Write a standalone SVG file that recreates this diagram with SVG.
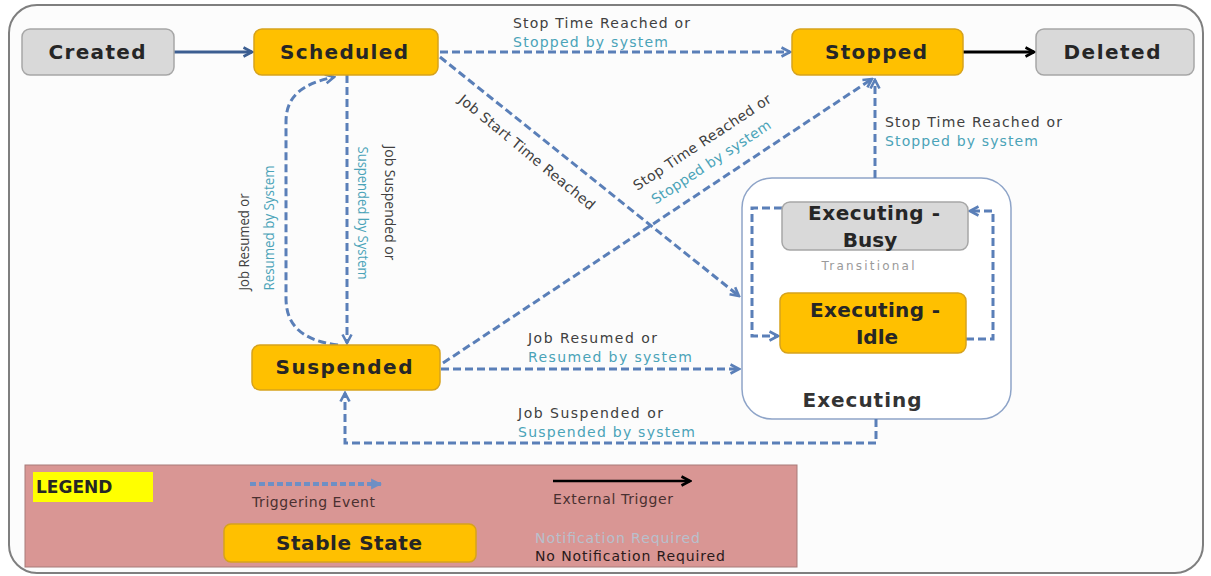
<svg xmlns="http://www.w3.org/2000/svg" width="1211" height="576" viewBox="0 0 1211 576">
<style>
.node text{font-family:"DejaVu Sans","Open Sans",sans-serif;font-weight:700;font-size:20px;fill:#262626;text-anchor:middle;dominant-baseline:central}
.orange{fill:#ffc000;stroke:#d6a21c;stroke-width:1.5}
.gray{fill:#d9d9d9;stroke:#a6a6a6;stroke-width:1.5}
.dash{fill:none;stroke:#5a7fb8;stroke-width:3;stroke-dasharray:8 4}
.lbl{font-family:"DejaVu Sans","Open Sans",sans-serif;font-size:14px;fill:#404040;dominant-baseline:central}
.vl{font-family:"Open Sans","DejaVu Sans",sans-serif;font-size:14px;fill:#404040;dominant-baseline:central;text-anchor:middle}
.teal{fill:#4aa3b8}
.leg{font-family:"DejaVu Sans","Open Sans",sans-serif;font-size:14px;fill:#4a3030;dominant-baseline:central}
</style>
<defs>
<marker id="arr" viewBox="0 0 12 12" refX="10" refY="6" markerWidth="12" markerHeight="12" markerUnits="userSpaceOnUse" orient="auto">
<path d="M1.5,1.5 L10,6 L1.5,10.5" fill="none" stroke="#5a7fb8" stroke-width="2.6"/>
</marker>
<marker id="arrDark" viewBox="0 0 12 12" refX="10" refY="6" markerWidth="12" markerHeight="12" markerUnits="userSpaceOnUse" orient="auto">
<path d="M1.5,1.5 L10,6 L1.5,10.5" fill="none" stroke="#3c5e91" stroke-width="2.6"/>
</marker>
<marker id="arrBlack" viewBox="0 0 12 12" refX="10" refY="6" markerWidth="12" markerHeight="12" markerUnits="userSpaceOnUse" orient="auto">
<path d="M1.5,1.5 L10,6 L1.5,10.5" fill="none" stroke="#000" stroke-width="2.6"/>
</marker>
<marker id="arrFill" viewBox="0 0 10 10" refX="9" refY="5" markerWidth="11" markerHeight="14" markerUnits="userSpaceOnUse" orient="auto">
<path d="M0,0 L10,5 L0,10 z" fill="#6f8fc4"/>
</marker>
</defs>

<rect x="9" y="5" width="1194" height="568" rx="28" fill="#fcfcfc" stroke="#7f7f7f" stroke-width="2"/>

<g id="executing">
<rect x="742" y="178" width="269" height="241" rx="30" fill="#ffffff" stroke="#8ea4c8" stroke-width="1.5"/>
<text x="862" y="400" style="font-family:'DejaVu Sans','Open Sans',sans-serif;font-weight:700;font-size:20px;fill:#333;text-anchor:middle;dominant-baseline:central" textLength="119" lengthAdjust="spacing">Executing</text>
<text x="868" y="266" style="font-family:'DejaVu Sans','Open Sans',sans-serif;font-size:12px;fill:#9a9a9a;text-anchor:middle;dominant-baseline:central" textLength="93" lengthAdjust="spacing">Transitional</text>
</g>

<g id="connectors">
<line x1="174" y1="52" x2="252" y2="52" stroke="#3c5e91" stroke-width="3" marker-end="url(#arrDark)"/>
<line x1="963" y1="52" x2="1034" y2="52" stroke="#000" stroke-width="3" marker-end="url(#arrBlack)"/>
<line class="dash" x1="440" y1="52" x2="790" y2="52" marker-end="url(#arr)"/>
<line class="dash" x1="440" y1="57" x2="739" y2="296" marker-end="url(#arr)"/>
<line class="dash" x1="443" y1="363" x2="872" y2="79" marker-end="url(#arr)"/>
<line class="dash" x1="875" y1="178" x2="875" y2="80" marker-end="url(#arr)"/>
<line class="dash" x1="347" y1="75" x2="347" y2="343" marker-end="url(#arr)"/>
<path class="dash" d="M338,345 C298,340 286,322 286,298 L286,122 C286,96 302,84 334,77" marker-end="url(#arr)"/>
<line class="dash" x1="441" y1="369" x2="739" y2="369" marker-end="url(#arr)"/>
<path class="dash" d="M876,419 L876,443 L345,443 L345,393" marker-end="url(#arr)"/>
<path class="dash" d="M782,208 L752,208 L752,336 L778,336" marker-end="url(#arr)"/>
<path class="dash" d="M966,339 L993,339 L993,211 L970,211" marker-end="url(#arr)"/>
</g>

<g id="labels">
<text class="lbl" x="513" y="23" textLength="177" lengthAdjust="spacing">Stop Time Reached or</text>
<text class="lbl teal" x="513" y="42" textLength="155" lengthAdjust="spacing">Stopped by system</text>
<text class="lbl" x="885" y="122" textLength="177" lengthAdjust="spacing">Stop Time Reached or</text>
<text class="lbl teal" x="885" y="141" textLength="153" lengthAdjust="spacing">Stopped by system</text>
<text class="lbl" x="528" y="338" textLength="129" lengthAdjust="spacing">Job Resumed or</text>
<text class="lbl teal" x="528" y="357" textLength="164" lengthAdjust="spacing">Resumed by system</text>
<text class="lbl" x="518" y="413" textLength="145" lengthAdjust="spacing">Job Suspended or</text>
<text class="lbl teal" x="518" y="432" textLength="177" lengthAdjust="spacing">Suspended by system</text>
<text class="lbl" text-anchor="middle" transform="translate(527,152) rotate(39.5)" textLength="172" lengthAdjust="spacing">Job  Start Time Reached</text>
<text class="lbl" text-anchor="middle" transform="translate(702,142) rotate(-33.5)" textLength="162" lengthAdjust="spacing">Stop Time Reached or</text>
<text class="lbl teal" text-anchor="middle" transform="translate(711,162) rotate(-33.5)" textLength="140" lengthAdjust="spacing">Stopped by system</text>
<text class="vl" transform="translate(390,203) rotate(90)" textLength="115" lengthAdjust="spacingAndGlyphs">Job Suspended or</text>
<text class="vl teal" transform="translate(363,213) rotate(90)" textLength="133" lengthAdjust="spacingAndGlyphs">Suspended by System</text>
<text class="vl" transform="translate(243,242) rotate(-90)" textLength="97" lengthAdjust="spacingAndGlyphs">Job Resumed or</text>
<text class="vl teal" transform="translate(268,228) rotate(-90)" textLength="125" lengthAdjust="spacingAndGlyphs">Resumed by System</text>
</g>

<g id="created" class="node">
<rect class="gray" x="22" y="29" width="152" height="46" rx="8"/>
<text x="97" y="52" textLength="97" lengthAdjust="spacing">Created</text>
</g>
<g id="scheduled" class="node">
<rect class="orange" x="254" y="29" width="184" height="46" rx="8"/>
<text x="344" y="52" textLength="128" lengthAdjust="spacing">Scheduled</text>
</g>
<g id="stopped" class="node">
<rect class="orange" x="792" y="29" width="171" height="46" rx="8"/>
<text x="876" y="52" textLength="102" lengthAdjust="spacing">Stopped</text>
</g>
<g id="deleted" class="node">
<rect class="gray" x="1036" y="29" width="158" height="46" rx="8"/>
<text x="1112" y="52" textLength="97" lengthAdjust="spacing">Deleted</text>
</g>
<g id="suspended" class="node">
<rect class="orange" x="252" y="345" width="188" height="45" rx="8"/>
<text x="344" y="367" textLength="137" lengthAdjust="spacing">Suspended</text>
</g>
<g id="executing-busy" class="node">
<rect class="gray" x="782" y="202" width="186" height="48" rx="8"/>
<text x="874" y="213" textLength="132" lengthAdjust="spacing">Executing -</text>
<text x="870" y="240">Busy</text>
</g>
<g id="executing-idle" class="node">
<rect class="orange" x="780" y="293" width="186" height="60" rx="8"/>
<text x="875" y="310" textLength="130" lengthAdjust="spacing">Executing -</text>
<text x="877" y="337">Idle</text>
</g>

<g id="legend">
<rect x="25" y="465" width="772" height="102" fill="#d99694" stroke="#a77a78" stroke-width="1"/>
<rect x="33" y="472" width="120" height="30" fill="#ffff00"/>
<text x="36" y="487" style="font-family:'DejaVu Sans','Open Sans',sans-serif;font-weight:700;font-size:17px;fill:#262626;dominant-baseline:central">LEGEND</text>
<line x1="250" y1="484" x2="381" y2="484" stroke="#6f8fc4" stroke-width="4" stroke-dasharray="6 3" marker-end="url(#arrFill)"/>
<text class="leg" x="252" y="502" textLength="123" lengthAdjust="spacing">Triggering Event</text>
<line x1="553" y1="481" x2="690" y2="481" stroke="#000" stroke-width="2.5" marker-end="url(#arrBlack)"/>
<text class="leg" x="553" y="499" textLength="120" lengthAdjust="spacing">External Trigger</text>
<g id="stable-state" class="node">
<rect class="orange" x="224" y="524" width="252" height="38" rx="7"/>
<text x="349" y="543" textLength="146" lengthAdjust="spacing">Stable State</text>
</g>
<text class="leg" x="535" y="538" style="fill:#b8c0cc" textLength="165" lengthAdjust="spacing">Notification Required</text>
<text class="leg" x="535" y="556" style="fill:#2a1a1a" textLength="190" lengthAdjust="spacing">No Notification Required</text>
</g>
</svg>
